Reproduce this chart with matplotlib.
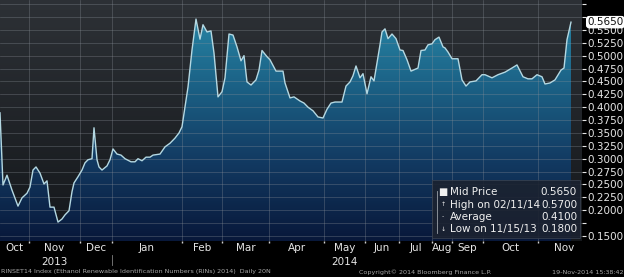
import numpy as np
import matplotlib
matplotlib.use("Agg")
import matplotlib.pyplot as plt
from matplotlib.colors import LinearSegmentedColormap
from matplotlib.patches import Rectangle
from matplotlib.transforms import blended_transform_factory

# observation position along the (trading-day based) axis, and mid price
obs = [0, 3, 7, 12, 18, 22, 27, 30, 33, 36, 40, 44, 47, 50, 54, 58, 62, 65, 69, 72,
       74, 78, 82, 85, 88, 92, 94, 97, 99, 102, 107, 110, 113, 117, 121, 125, 131, 135,
       138, 142, 146, 150, 153, 160, 165, 170, 175, 179, 182, 185, 188, 192, 196, 200,
       203, 207, 211, 214, 218, 222, 225, 229, 233, 237, 241, 244, 247, 251, 256, 259,
       262, 267, 270, 276, 283, 285, 290, 294, 300, 304, 308, 313, 318, 323, 327, 331,
       335, 342, 346, 350, 353, 356, 360, 363, 367, 371, 374, 377, 380, 382, 385, 388,
       392, 396, 400, 403, 407, 411, 418, 421, 425, 428, 432, 435, 439, 443, 445, 448,
       452, 458, 462, 466, 470, 476, 482, 485, 492, 498, 505, 512, 517, 523, 528, 532,
       537, 542, 545, 550, 555, 561, 564, 567, 571]
price = [0.389, 0.249, 0.268, 0.239, 0.208, 0.224, 0.233, 0.245, 0.278, 0.284, 0.272,
         0.251, 0.257, 0.206, 0.206, 0.177, 0.183, 0.191, 0.199, 0.236, 0.253, 0.265,
         0.278, 0.292, 0.298, 0.300, 0.360, 0.298, 0.284, 0.278, 0.286, 0.298, 0.319,
         0.309, 0.307, 0.300, 0.294, 0.294, 0.300, 0.296, 0.303, 0.303, 0.307, 0.309,
         0.323, 0.330, 0.340, 0.350, 0.362, 0.401, 0.439, 0.511, 0.571, 0.532, 0.560,
         0.546, 0.548, 0.505, 0.420, 0.430, 0.457, 0.542, 0.540, 0.517, 0.490, 0.500,
         0.449, 0.443, 0.453, 0.472, 0.510, 0.498, 0.492, 0.470, 0.470, 0.447, 0.418,
         0.420, 0.412, 0.408, 0.400, 0.393, 0.381, 0.379, 0.396, 0.408, 0.410, 0.410,
         0.441, 0.449, 0.461, 0.480, 0.457, 0.465, 0.426, 0.459, 0.451, 0.486, 0.521,
         0.546, 0.552, 0.533, 0.542, 0.533, 0.511, 0.510, 0.492, 0.470, 0.476, 0.510,
         0.511, 0.521, 0.523, 0.531, 0.536, 0.517, 0.515, 0.507, 0.494, 0.494, 0.453,
         0.441, 0.449, 0.451, 0.463, 0.463, 0.457, 0.463, 0.468, 0.476, 0.482, 0.459,
         0.455, 0.455, 0.463, 0.459, 0.445, 0.447, 0.453, 0.472, 0.476, 0.531, 0.565]

# month boundaries on the observation axis (last one is the right edge)
month_edges = [0, 29, 80, 112, 182, 222, 269, 324, 365, 399, 432, 452, 483, 538, 590]
month_labels = ["Oct", "Nov", "Dec", "Jan", "Feb", "Mar", "Apr", "May", "Jun", "Jul",
                "Aug", "Sep", "Oct", "Nov"]
years = [("2013", 1), ("2014", 7)]  # label, month index it sits under

y_ticks = np.round(np.arange(0.15, 0.6001, 0.025), 4)
hidden_ticks = [0.175, 0.575, 0.6]

legend_rows = [("Mid Price", "0.5650"), ("High on 02/11/14", "0.5700"),
               ("Average", "0.4100"), ("Low on 11/15/13", "0.1800")]

W, H = 624, 277
fig = plt.figure(figsize=(W / 100, H / 100), dpi=100, facecolor="black")
ax = fig.add_axes([0, 36 / H, 582 / W, 241 / H])
ax.set_xlim(0, 582)
ax.set_ylim(0.1403, 0.608)

# dark background gradient
bg = LinearSegmentedColormap.from_list("bg", ["#14171b", "#2d3136"])
ax.imshow(np.linspace(0, 1, 256).reshape(-1, 1), origin="lower", cmap=bg, aspect="auto",
          extent=[0, 1, 0, 1], transform=ax.transAxes, zorder=0)

# area fill with vertical teal->navy gradient clipped to the area
poly = ax.fill_between(obs, price, 0.1403, facecolor="none", edgecolor="none", zorder=1)
fillmap = LinearSegmentedColormap.from_list("fill", ["#08183a", "#123a62", "#1c6488", "#2a8cab"])
im = ax.imshow(np.linspace(0, 1, 256).reshape(-1, 1), origin="lower", cmap=fillmap,
               aspect="auto", extent=[0, 582, 0.1403, 0.608], zorder=1)
im.set_clip_path(poly.get_paths()[0], transform=ax.transData)

ax.plot(obs, price, color="#b4d8e2", lw=1.0, zorder=3)

# grid
for v in y_ticks:
    ax.axhline(v, color="#8a9098", lw=0.5, alpha=0.45, zorder=2)
for e in month_edges[1:-1]:
    ax.axvline(e, color="#8a9098", lw=0.5, alpha=0.45, zorder=2)

for s in ax.spines.values():
    s.set_visible(False)

# right axis
ax.yaxis.tick_right()
ax.set_yticks(y_ticks)
ax.set_yticklabels(["" if any(abs(v - h) < 1e-6 for h in hidden_ticks) else f"{v:.4f}"
                    for v in y_ticks])
ax.tick_params(axis="y", direction="out", length=3, width=0.8, colors="#e6e6e6",
               labelsize=7.5, pad=1)

# x axis: month boundary ticks, labels centred in months
ax.set_xticks(month_edges[1:-1])
ax.set_xticklabels([])
ax.tick_params(axis="x", direction="out", length=1.5, width=1, colors="#d0d0d0")
centers = [(a + b) / 2 for a, b in zip(month_edges[:-1], month_edges[1:])]
ax.set_xticks(centers, minor=True)
ax.set_xticklabels(month_labels, minor=True)
ax.tick_params(axis="x", which="minor", length=0, colors="#e6e6e6", labelsize=7.5, pad=1.5)

tr = blended_transform_factory(ax.transData, ax.transAxes)
for lab, mi in years:
    ax.text(centers[mi], -0.087, lab, transform=tr, ha="center", va="center",
            color="#e6e6e6", fontsize=7.5, clip_on=False)
ax.plot([month_edges[3], month_edges[3]], [-0.06, -0.1], transform=tr, color="#808080",
        lw=0.6, clip_on=False)

# last price tag
trp = blended_transform_factory(ax.transAxes, ax.transData)
ax.text(1.009, price[-1], legend_rows[0][1], transform=trp, ha="left", va="center",
        fontsize=7.5, color="#111111", clip_on=False, zorder=6,
        bbox=dict(boxstyle="round,pad=0.12,rounding_size=0.3", fc="white", ec="none"))


def P(x, y):
    return x / W, 1 - y / H


# legend box
x0, y0 = P(432, 238)
x1, y1 = P(580, 180)
fig.patches.append(Rectangle((x0, y0), x1 - x0, y1 - y0, transform=fig.transFigure,
                             fc="#1b2230", ec="#3a4250", lw=0.6, alpha=0.9, zorder=5))
row_y = [192, 204.5, 217, 229]
marks = ["\u25A0", "\u2191", "-", "\u2193"]
for (name, val), ry, mk in zip(legend_rows, row_y, marks):
    fig.text(*P(450, ry), name, ha="left", va="center", color="#f0f0f0", fontsize=7.5, zorder=6)
    fig.text(*P(577, ry), val, ha="right", va="center", color="#f0f0f0", fontsize=7.5, zorder=6)
    fig.text(*P(443, ry), mk, ha="center", va="center", color="#f0f0f0",
             fontsize=7 if mk == "\u25A0" else 4.5, zorder=6)
fig.lines.append(plt.Line2D([437 / W, 437 / W], [1 - 191 / H, 1 - 233 / H],
                            transform=fig.transFigure, color="#9aa0a8", lw=0.6, zorder=6))

# footer
fig.text(*P(1, 272), "RINSET14 Index (Ethanol Renewable Identification Numbers (RINs) 2014)  Daily 20N",
         ha="left", va="center", color="#a8a8a8", fontsize=4.6)
fig.text(*P(425, 272), "Copyright\u00a9 2014 Bloomberg Finance L.P.", ha="center", va="center",
         color="#a8a8a8", fontsize=4.6)
fig.text(*P(623, 272), "19-Nov-2014 15:38:42", ha="right", va="center", color="#a8a8a8",
         fontsize=4.6)

fig.savefig("out.png", dpi=100, facecolor="black")
